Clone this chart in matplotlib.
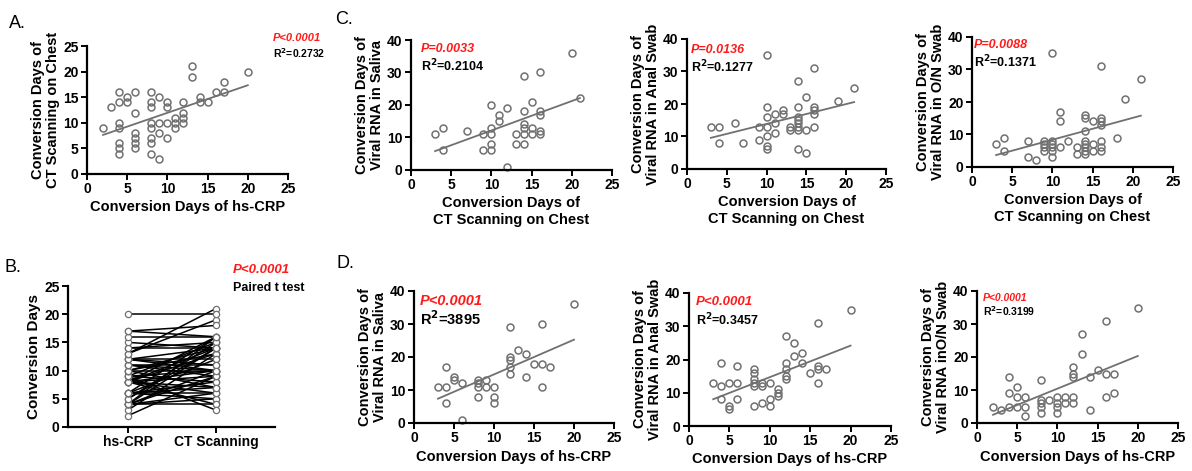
import matplotlib
matplotlib.use('Agg')
import matplotlib.pyplot as plt
import numpy as np

plt.rcParams['font.family'] = ['Liberation Sans', 'DejaVu Sans']
plt.rcParams['font.weight'] = 'bold'
plt.rcParams['axes.labelweight'] = 'bold'

# A / B: hs-CRP vs CT scanning on chest
crp_a = [2, 3, 4, 4, 4, 4, 4, 4, 4, 5, 5, 6, 6, 6, 6, 6, 6, 8, 8, 8, 8, 8, 8, 8, 8,
         9, 9, 9, 9, 10, 10, 10, 10, 11, 11, 11, 12, 12, 12, 12, 13, 13, 14, 14, 15,
         16, 17, 17, 20]
ct_a = [9, 13, 16, 14, 10, 9, 6, 5, 4, 15, 14, 16, 12, 8, 7, 6, 5, 16, 14, 13, 10, 9, 7, 6, 4,
        15, 10, 8, 3, 14, 13, 10, 7, 11, 10, 9, 14, 12, 11, 10, 21, 19, 15, 14, 14,
        16, 18, 16, 20]

# C: CT scanning vs viral RNA
ct_c1 = [3, 4, 4, 7, 9, 9, 10, 10, 10, 10, 10, 11, 11, 12, 12, 13, 13, 14, 14, 14, 14, 14, 14,
         15, 15, 15, 16, 16, 16, 16, 16, 20, 21]
saliva_c1 = [11, 13, 6, 12, 11, 6, 20, 13, 11, 8, 6, 17, 15, 19, 1, 11, 8, 29, 18, 14, 13, 11, 8,
             21, 13, 11, 30, 18, 17, 12, 11, 36, 22]
ct_c2 = [3, 4, 4, 6, 7, 9, 9, 10, 10, 10, 10, 10, 10, 10, 11, 11, 11, 12, 12, 13, 13,
         14, 14, 14, 14, 14, 14, 14, 14, 15, 15, 15, 16, 16, 16, 16, 16, 19, 21]
anal_c2 = [13, 13, 8, 14, 8, 9, 13, 35, 19, 16, 13, 10, 7, 6, 17, 14, 11, 18, 17, 13, 12,
           27, 19, 16, 15, 14, 13, 12, 6, 22, 12, 5, 31, 19, 18, 17, 13, 21, 25]
ct_c3 = [3, 4, 4, 7, 7, 8, 9, 9, 9, 9, 10, 10, 10, 10, 10, 10, 11, 11, 11, 12, 13, 13,
         14, 14, 14, 14, 14, 14, 14, 14, 15, 15, 15, 16, 16, 16, 16, 16, 16, 16, 18, 19, 21]
on_c3 = [7, 9, 5, 8, 3, 2, 8, 7, 6, 5, 35, 8, 7, 6, 5, 3, 17, 14, 6, 8, 6, 4,
         16, 15, 11, 8, 7, 6, 5, 4, 14, 7, 5, 31, 15, 14, 13, 8, 6, 5, 9, 21, 27]

# D: hs-CRP vs viral RNA
crp_d1 = [3, 4, 4, 4, 5, 5, 6, 6, 8, 8, 8, 8, 9, 9, 10, 10, 10, 12, 12, 12, 12, 12, 13, 14, 14,
          15, 16, 16, 16, 17, 20]
saliva_d1 = [11, 17, 11, 6, 14, 13, 12, 1, 13, 12, 11, 8, 13, 11, 11, 8, 6, 29, 20, 19, 17, 15, 22, 21, 14,
             18, 30, 18, 11, 17, 36]
crp_d2 = [3, 4, 4, 4, 5, 5, 5, 6, 6, 6, 8, 8, 8, 8, 8, 8, 9, 9, 9, 10, 10, 10, 11, 11, 11,
          12, 12, 12, 12, 12, 13, 13, 14, 14, 15, 16, 16, 16, 16, 17, 20]
anal_d2 = [13, 19, 12, 8, 13, 6, 5, 18, 13, 8, 17, 16, 14, 13, 12, 6, 13, 12, 7, 13, 8, 6, 11, 10, 9,
           27, 19, 17, 15, 14, 25, 21, 22, 19, 16, 31, 18, 17, 13, 17, 35]
crp_d3 = [2, 3, 4, 4, 4, 5, 5, 5, 6, 6, 6, 8, 8, 8, 8, 8, 9, 10, 10, 10, 10, 11, 11,
          12, 12, 12, 12, 12, 13, 13, 14, 14, 15, 16, 16, 16, 17, 17, 20]
on_d3 = [5, 4, 14, 9, 5, 11, 8, 5, 8, 5, 2, 13, 7, 6, 5, 3, 7, 8, 6, 5, 3, 8, 6,
         17, 15, 14, 8, 6, 27, 21, 14, 4, 16, 31, 15, 8, 15, 9, 35]

W, H = 1192, 471
fig = plt.figure(figsize=(W / 100, H / 100), dpi=100)
fig.patch.set_facecolor('white')

RED = '#ff1a1a'
GREY = '#707070'


def px_axes(left, top, right, bottom):
    return fig.add_axes([left / W, 1 - bottom / H, (right - left) / W, (bottom - top) / H])


def style(ax, tick_size=10):
    for s in ['top', 'right']:
        ax.spines[s].set_visible(False)
    for s in ['left', 'bottom']:
        ax.spines[s].set_linewidth(1.6)
    ax.tick_params(direction='out', length=4, width=1.4, labelsize=tick_size, pad=2)


def ftext(x, y, s, **kw):
    fig.text(x / W, 1 - y / H, s, va='center', ha='left', **kw)


def scatter_panel(box, x, y, ymax, xlabel, ylabel, ylabelpad=2):
    ax = px_axes(*box)
    ax.plot(x, y, 'o', ms=5, mfc='none', mec=GREY, mew=1.1, clip_on=False)
    # linear fit drawn over the observed x range
    k, b = np.polyfit(x, y, 1)
    xs = np.array([min(x), max(x)])
    ax.plot(xs, k * xs + b, color=GREY, lw=1.3)
    ax.set_xlim(0, 25)
    ax.set_ylim(0, ymax)
    ax.set_xticks(range(0, 26, 5))
    ax.set_yticks(range(0, ymax + 1, 10 if ymax == 40 else 5))
    ax.set_xlabel(xlabel, fontsize=10.5, labelpad=3)
    ax.set_ylabel(ylabel, fontsize=10.5, labelpad=ylabelpad, linespacing=1.1)
    style(ax)
    return ax


# panel A
scatter_panel((87, 46, 288, 174), crp_a, ct_a, 25,
              'Conversion Days of hs-CRP', 'Conversion Days of\nCT Scanning on Chest')
ftext(273, 38, 'P<0.0001', color=RED, fontsize=8, style='italic')
ftext(273, 53, 'R$^\\mathbf{2}$=0.2732', fontsize=7.5)

# panel B
axb = px_axes(68, 286, 275, 427)
for c, t in zip(crp_a, ct_a):
    axb.plot([0, 1], [c, t], color='black', lw=1.1)
axb.plot(np.zeros(len(crp_a)), crp_a, 'o', ms=4.5, mfc='white', mec=GREY, mew=0.9, clip_on=False)
axb.plot(np.ones(len(ct_a)), ct_a, 'o', ms=4.5, mfc='white', mec=GREY, mew=0.9, clip_on=False)
axb.set_xlim(-0.68, 1.67)
axb.set_ylim(0, 25)
axb.set_yticks(range(0, 26, 5))
axb.set_xticks([0, 1])
axb.set_xticklabels(['hs-CRP', 'CT Scanning'], fontsize=11)
axb.set_ylabel('Conversion Days', fontsize=11, labelpad=2)
style(axb)
ftext(233, 270, 'P<0.0001', color=RED, fontsize=9.5, style='italic')
ftext(233, 288, 'Paired t test', fontsize=9)

# panel C
ct_label = 'Conversion Days of\nCT Scanning on Chest'
scatter_panel((411, 40, 612, 170), ct_c1, saliva_c1, 40, ct_label,
              'Conversion Days of\nViral RNA in Saliva')
ftext(421, 49, 'P=0.0033', color=RED, fontsize=9, style='italic')
ftext(421, 66, 'R$^\\mathbf{2}$=0.2104', fontsize=9)
scatter_panel((687, 39, 886, 169), ct_c2, anal_c2, 40, ct_label,
              'Conversion Days of\nViral RNA in Anal Swab')
ftext(691, 50, 'P=0.0136', color=RED, fontsize=9, style='italic')
ftext(691, 67, 'R$^\\mathbf{2}$=0.1277', fontsize=9)
scatter_panel((972, 37, 1173, 167), ct_c3, on_c3, 40, ct_label,
              'Conversion Days of\nViral RNA in O/N Swab')
ftext(974, 45, 'P=0.0088', color=RED, fontsize=9, style='italic')
ftext(974, 62, 'R$^\\mathbf{2}$=0.1371', fontsize=9)

# panel D
crp_label = 'Conversion Days of hs-CRP'
scatter_panel((414, 291, 614, 423), crp_d1, saliva_d1, 40, crp_label,
              'Conversion Days of\nViral RNA in Saliva')
ftext(420, 301, 'P<0.0001', color=RED, fontsize=10.5, style='italic')
ftext(420, 319, 'R$^\\mathbf{2}$=3895', fontsize=10.5)
scatter_panel((689, 293, 891, 426), crp_d2, anal_d2, 40, crp_label,
              'Conversion Days of\nViral RNA in Anal Swab')
ftext(696, 302, 'P<0.0001', color=RED, fontsize=9.5, style='italic')
ftext(696, 320, 'R$^\\mathbf{2}$=0.3457', fontsize=9)
scatter_panel((977, 291, 1178, 423), crp_d3, on_d3, 40, crp_label,
              'Conversion Days of\nViral RNA inO/N Swab')
ftext(983, 298, 'P<0.0001', color=RED, fontsize=7.5, style='italic')
ftext(983, 311, 'R$^\\mathbf{2}$=0.3199', fontsize=7.5)

# panel letters
for x, y, s in [(9, 23, 'A.'), (4, 268, 'B.'), (335, 19, 'C.'), (336, 263, 'D.')]:
    ftext(x, y, s, fontsize=13, fontweight='normal')

fig.savefig('out.png', dpi=100)
